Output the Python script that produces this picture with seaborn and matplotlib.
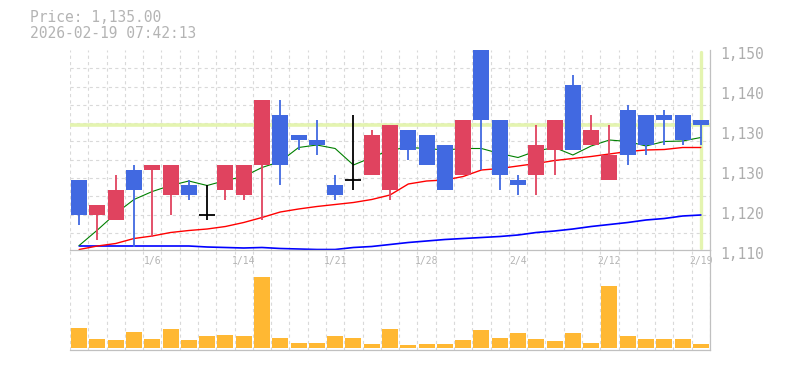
import numpy as np
import pandas as pd
import matplotlib
matplotlib.use("Agg")
import matplotlib.pyplot as plt
from matplotlib.ticker import FixedLocator
from matplotlib.transforms import ScaledTranslation
import seaborn as sns

# ---------------- data ----------------
dates = ["12/26", "12/29", "12/30", "1/5", "1/6", "1/7", "1/8", "1/9", "1/13", "1/14",
         "1/15", "1/16", "1/19", "1/20", "1/21", "1/22", "1/23", "1/26", "1/27", "1/28",
         "1/29", "1/30", "2/2", "2/3", "2/4", "2/5", "2/6", "2/9", "2/10", "2/12",
         "2/13", "2/16", "2/17", "2/18", "2/19"]

open_ = [1124, 1117, 1116, 1126, 1126, 1121, 1123, 1117, 1122, 1121,
         1127, 1137, 1133, 1132, 1123, 1124, 1125, 1122, 1134, 1133,
         1131, 1125, 1150, 1136, 1124, 1125, 1130, 1143, 1131, 1124,
         1138, 1137, 1137, 1137, 1136]
high = [1124, 1119, 1125, 1127, 1127, 1127, 1124, 1123, 1127, 1127,
        1140, 1140, 1133, 1136, 1125, 1137, 1134, 1135, 1134, 1133,
        1131, 1136, 1150, 1136, 1125, 1135, 1136, 1145, 1137, 1135,
        1139, 1137, 1138, 1137, 1136]
low = [1115, 1112, 1116, 1110.7, 1112.7, 1117, 1120, 1116, 1120, 1120,
       1116, 1123, 1130, 1129, 1120, 1122, 1125, 1120, 1128, 1127,
       1122, 1125, 1126, 1122, 1121, 1121, 1125, 1130, 1131, 1124,
       1127, 1129, 1131, 1131, 1131]
close = [1117, 1119, 1122, 1122, 1127, 1127, 1121, 1117, 1127, 1127,
         1140, 1127, 1132, 1131, 1121, 1124, 1133, 1135, 1130, 1127,
         1122, 1136, 1136, 1125, 1123, 1131, 1136, 1130, 1134, 1129,
         1129, 1131, 1136, 1132, 1135]

ma_short = [1110.9, 1114.0, 1117.3, 1120.1, 1121.7, 1122.9, 1123.8, 1122.9, 1123.9, 1124.7,
            1126.5, 1127.7, 1130.5, 1131.0, 1130.3, 1127.0, 1128.5, 1130.0, 1130.5, 1130.3,
            1130.0, 1130.3, 1130.3, 1129.3, 1128.5, 1129.8, 1130.5, 1129.0, 1130.8, 1132.0,
            1131.7, 1130.8, 1131.7, 1131.8, 1132.5]
ma_mid = [1110.1, 1110.8, 1111.3, 1112.3, 1112.8, 1113.5, 1113.9, 1114.2, 1114.7, 1115.5,
          1116.5, 1117.6, 1118.2, 1118.7, 1119.1, 1119.5, 1120.1, 1121.0, 1123.2, 1123.8,
          1124.0, 1124.7, 1126.0, 1126.3, 1126.8, 1127.3, 1127.9, 1128.3, 1128.7, 1129.2,
          1129.7, 1130.0, 1130.1, 1130.5, 1130.5]
ma_long = [1110.8, 1110.8, 1110.8, 1110.8, 1110.8, 1110.8, 1110.8, 1110.6, 1110.5, 1110.4,
           1110.5, 1110.3, 1110.2, 1110.1, 1110.1, 1110.5, 1110.7, 1111.1, 1111.5, 1111.8,
           1112.1, 1112.3, 1112.5, 1112.7, 1113.0, 1113.5, 1113.8, 1114.2, 1114.7, 1115.1,
           1115.5, 1116.0, 1116.3, 1116.8, 1117.0]

volume = [197, 87, 77, 157, 87, 187, 77, 117, 127, 117,
          707, 97, 47, 47, 117, 97, 37, 187, 27, 37,
          37, 77, 177, 97, 147, 87, 67, 147, 47, 617,
          117, 87, 87, 87, 37]

xtick_dates = ["1/6", "1/14", "1/21", "1/28", "2/4", "2/12", "2/19"]
ytick_values = [1150, 1142, 1134, 1126, 1118, 1110]
ytick_labels = ["1,150", "1,140", "1,130", "1,130", "1,120", "1,110"]

current_price = 1135.00
header_price = "Price: 1,135.00"
header_time = "2026-02-19 07:42:13"

# ---------------- style ----------------
sns.set_theme(style="white")
plt.rcParams["font.family"] = ["DejaVu Sans Mono"]
plt.rcParams["lines.scale_dashes"] = False

UP = "#e0435f"
DOWN = "#4169e1"
GRID = "#d9d9d9"
AXIS = "#c0c0c0"
TXT = "#b4b4b4"
DASH = (0, (2.3, 2.3))

n = len(dates)
idx = np.arange(n)
o = np.array(open_, float)
c = np.array(close, float)
h = np.array(high, float)
l = np.array(low, float)

fig = plt.figure(figsize=(7.85, 3.70), dpi=100)
ax = fig.add_axes([70 / 785, 120 / 370, 640 / 785, 200 / 370])
axv = fig.add_axes([70 / 785, 20 / 370, 640 / 785, 100 / 370])
axv.set_facecolor("none")

# ---------------- price panel ----------------
ax.axhline(current_price, color="#e4f4b0", lw=2.6, zorder=1.2)
ax.axvline(idx[-1], ymin=0.01, ymax=0.99, color="#e4f4b0", lw=2.4, zorder=1.2)

sns.lineplot(x=idx, y=ma_long, ax=ax, color="#0000ff", linewidth=1.2, zorder=2)
sns.lineplot(x=idx, y=ma_mid, ax=ax, color="#ff0000", linewidth=1.0, zorder=2)
sns.lineplot(x=idx, y=ma_short, ax=ax, color="#008000", linewidth=0.8, zorder=2)

colors = np.where(c > o, UP, np.where(c < o, DOWN, "#000000"))
ax.vlines(idx, l, h, colors=colors, lw=1.3, zorder=3)
body = c != o
ax.bar(idx[body], np.abs(c - o)[body], bottom=np.minimum(o, c)[body],
       width=0.87, color=colors[body], linewidth=0, zorder=4)
doji = ~body
ax.hlines(c[doji], idx[doji] - 0.435, idx[doji] + 0.435, colors="#000000", lw=1.3, zorder=4)

ax.set_xlim(-0.5, n - 0.5)
ax.set_ylim(1110, 1150)
ax.set_xlabel("")
ax.set_ylabel("")
for s in ["left", "top"]:
    ax.spines[s].set_visible(False)
for s in ["right", "bottom"]:
    ax.spines[s].set_color(AXIS)
    ax.spines[s].set_linewidth(0.9)

ax.yaxis.tick_right()
ax.set_yticks(ytick_values)
ax.set_yticklabels(ytick_labels)
ax.set_xticks([dates.index(d) for d in xtick_dates])
ax.set_xticklabels(xtick_dates)
ax.tick_params(axis="y", which="major", length=0, pad=7, labelsize=10.5, labelcolor="#adadad")
ax.tick_params(axis="x", which="major", length=0, pad=4, labelsize=7, labelcolor=TXT)
shift = ScaledTranslation(0, -2 / 72, fig.dpi_scale_trans)
for lab in ax.get_yticklabels():
    lab.set_transform(lab.get_transform() + shift)
ax.xaxis.set_minor_locator(FixedLocator(np.arange(-0.5, n, 1)))
ax.yaxis.set_minor_locator(FixedLocator(1150 - np.arange(0, 11) * (40 / 200 * 18.29)))
ax.tick_params(which="minor", length=0)
ax.grid(False, which="major")
ax.grid(True, which="minor", color=GRID, linestyle=DASH, linewidth=0.8, zorder=0)
ax.set_axisbelow(True)

# ---------------- volume panel ----------------
sns.barplot(x=idx, y=volume, ax=axv, color="#ffb833", saturation=1, width=0.87, linewidth=0)
axv.set_xlim(-0.5, n - 0.5)
axv.set_ylim(-23, 977)
axv.set_xlabel("")
axv.set_ylabel("")
for s in ["left", "top"]:
    axv.spines[s].set_visible(False)
for s in ["right", "bottom"]:
    axv.spines[s].set_color(AXIS)
    axv.spines[s].set_linewidth(0.9)
axv.set_xticks([])
axv.set_yticks([])
axv.xaxis.set_minor_locator(FixedLocator(np.arange(-0.5, n, 1)))
axv.tick_params(which="both", length=0, labelbottom=False, labelleft=False)
axv.grid(True, which="minor", axis="x", color=GRID, linestyle=DASH, linewidth=0.8)
axv.set_axisbelow(True)

# ---------------- header ----------------
fig.text(30 / 785, 1 - 18 / 370, header_price, va="center", ha="left",
         fontsize=10.5, color=TXT)
fig.text(30 / 785, 1 - 33 / 370, header_time, va="center", ha="left",
         fontsize=10.5, color=TXT)

fig.savefig("out.png", dpi=100)
